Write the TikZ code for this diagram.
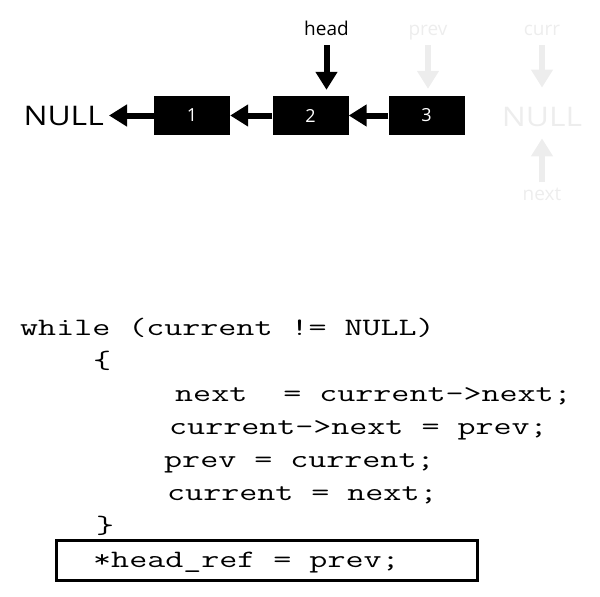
\documentclass[tikz,border=0pt]{standalone}
\usepackage{fontspec}
\setmainfont{Open Sans}
\newfontfamily\labelfont{Open Sans}
\newfontfamily\nlfont[FakeStretch=1.18]{Open Sans}
\newfontfamily\codefont[FakeStretch=1.40]{Latin Modern Mono}
\usetikzlibrary{arrows.meta}

\definecolor{ghost}{gray}{0.93}

\tikzset{
  cell/.style={fill=black, text=white, minimum width=76pt, minimum height=39pt,
    inner sep=0pt, font=\labelfont\fontsize{18}{18}\selectfont},
  link/.style={line width=6pt, -{Triangle[length=18pt,width=21pt]}},
  tag/.style={font=\labelfont\fontsize{19}{19}\selectfont, inner sep=0pt, anchor=base},
  nullword/.style={font=\nlfont\fontsize{27}{27}\selectfont, inner sep=0pt},
  codeline/.style={font=\codefont\fontsize{25}{25}\selectfont, inner sep=0pt, anchor=base west},
}

\begin{document}
\begin{tikzpicture}[x=1pt, y=-1pt]
\useasboundingbox (0,0) rectangle (600,597);

% reversed list
\node[cell] (n1) at (192,115.5) {1};
\node[cell] (n2) at (310.5,115.5) {2};
\node[cell] (n3) at (426.5,115.5) {3};
\node[nullword, anchor=east] (nullL) at (104,115.5) {NULL};

\draw[link, shorten >=5pt] (n1.west) -- (nullL.east);
\draw[link] (n2.west) -- (n1.east);
\draw[link] (n3.west) -- (n2.east);

% head pointer
\node[tag] (head) at (326.5,35) {head};
\draw[link, shorten <=10pt, shorten >=6pt] (head.south) -- (head.south |- n2.north);

% pointers left over after the loop, shown faded
\node[tag, text=ghost] (prev) at (428,35) {prev};
\node[tag, text=ghost] (curr) at (542,35) {curr};
\node[nullword, text=ghost] (nullR) at (542,117) {NULL};
\node[tag, text=ghost] (next) at (542,200) {next};
\draw[link, ghost, shorten <=5.4pt, shorten >=7pt] (prev.south) -- (prev.south |- n3.north);
\draw[link, ghost, shorten <=10pt, shorten >=19.4pt] (curr.south) -- (nullR.north);
\draw[link, ghost, shorten <=5pt, shorten >=11.4pt] (next.north) -- (nullR.south);

% loop code
\node[codeline] (l1) at (20,335) {while (current != NULL)};
\node[codeline] (l2) at (93,368) {\{};
\node[codeline] (l3) at (175,401) {next\ \ = current->next;};
\node[codeline] (l4) at (169,434) {current->next = prev;};
\node[codeline] (l5) at (164,467) {prev = current;};
\node[codeline] (l6) at (167,500) {current = next;};
\node[codeline] (l7) at (96,533) {\}};
\node[draw, line width=3pt, minimum width=421pt, minimum height=40pt, inner sep=0pt] (refbox) at (267,560.5) {};
\node[codeline] (l8) at (93,567) {*head\_ref = prev;};
\end{tikzpicture}
\end{document}
